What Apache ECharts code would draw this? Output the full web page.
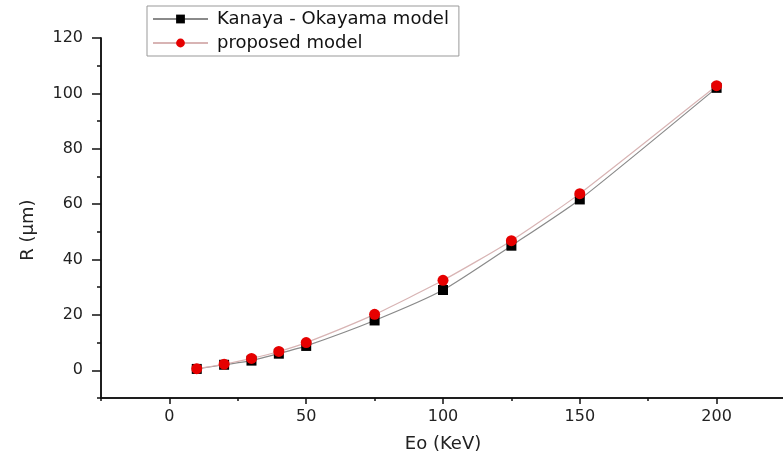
<!DOCTYPE html>
<html lang="en">
<head>
    <meta charset="UTF-8">
    <title>R vs Eo</title>
    <script src="https://cdn.jsdelivr.net/npm/echarts@6/dist/echarts.min.js"></script>
    <style>
        body { margin: 0; padding: 0; background: #fff; }
        #chart { width: 783px; height: 456px; }
    </style>
</head>
<body>
<div id="chart"></div>
<script>
    // data
    const energy = [10, 20, 30, 40, 50, 75, 100, 125, 150, 200];
    const kanaya = [0.5, 2.0, 3.5, 6.0, 8.8, 18.0, 29.0, 45.0, 61.7, 102.0];
    const proposed = [0.6, 2.2, 4.3, 6.8, 10.0, 20.2, 32.5, 46.8, 63.8, 102.8];
    const xMajor = [0, 50, 100, 150, 200];
    const yMajor = [0, 20, 40, 60, 80, 100, 120];

    const font = "DejaVu Sans";
    const chart = echarts.init(document.getElementById("chart"));

    const xBase = {
        type: "value", min: -25, max: 225, interval: 25, position: "bottom",
        axisLine: { show: true, onZero: false, lineStyle: { color: "#111", width: 1.5 } },
        splitLine: { show: false }
    };
    const yBase = {
        type: "value", min: -10, max: 120, interval: 10, position: "left",
        axisLine: { show: true, onZero: false, lineStyle: { color: "#111", width: 1.5 } },
        splitLine: { show: false }
    };

    chart.setOption({
        animation: false,
        grid: { left: 101, top: 38, width: 684, height: 360, outerBoundsMode: "none", containLabel: false },
        legend: {
            orient: "vertical",
            left: 147, top: 6,
            padding: [3, 10, 3, 5],
            itemGap: 4,
            itemWidth: 55, itemHeight: 11,
            borderColor: "#999", borderWidth: 1,
            textStyle: { fontFamily: font, fontSize: 18, color: "#111", lineHeight: 20, padding: [0, 0, 0, 4] },
            data: ["Kanaya - Okayama model", "proposed model"]
        },
        xAxis: [
            Object.assign({}, xBase, {
                axisTick: { show: true, length: 3, lineStyle: { color: "#111", width: 1.5 } },
                axisLabel: { show: false }
            }),
            Object.assign({}, xBase, {
                name: "Eo (KeV)", nameLocation: "middle", nameGap: 37,
                nameTextStyle: { fontFamily: font, fontSize: 18, color: "#222" },
                axisTick: { show: true, length: 6, customValues: xMajor, lineStyle: { color: "#111", width: 1.5 } },
                axisLabel: { show: true, customValues: xMajor, margin: 11, fontFamily: font, fontSize: 16, color: "#222" }
            })
        ],
        yAxis: [
            Object.assign({}, yBase, {
                axisTick: { show: true, length: 4, lineStyle: { color: "#111", width: 1.5 } },
                axisLabel: { show: false }
            }),
            Object.assign({}, yBase, {
                name: "R (\u00b5m)", nameLocation: "middle", nameGap: 64, nameRotate: 90,
                nameTextStyle: { fontFamily: font, fontSize: 18, color: "#222", padding: [0, 0, 0, -24] },
                axisTick: { show: true, length: 9, customValues: yMajor, lineStyle: { color: "#111", width: 1.5 } },
                axisLabel: { show: true, customValues: yMajor, margin: 18, fontFamily: font, fontSize: 16, color: "#222" }
            })
        ],
        series: [
            {
                name: "Kanaya - Okayama model",
                type: "line",
                data: energy.map((x, i) => [x, kanaya[i]]),
                smooth: 0.2,
                symbol: "rect", symbolSize: 10,
                itemStyle: { color: "#000" },
                lineStyle: { color: "#8a8a8a", width: 1.2 }
            },
            {
                name: "proposed model",
                type: "line",
                data: energy.map((x, i) => [x, proposed[i]]),
                smooth: 0.2,
                symbol: "circle", symbolSize: 11,
                itemStyle: { color: "#e60000" },
                lineStyle: { color: "#d8b4b4", width: 1.2 }
            }
        ]
    });
</script>
</body>
</html>
